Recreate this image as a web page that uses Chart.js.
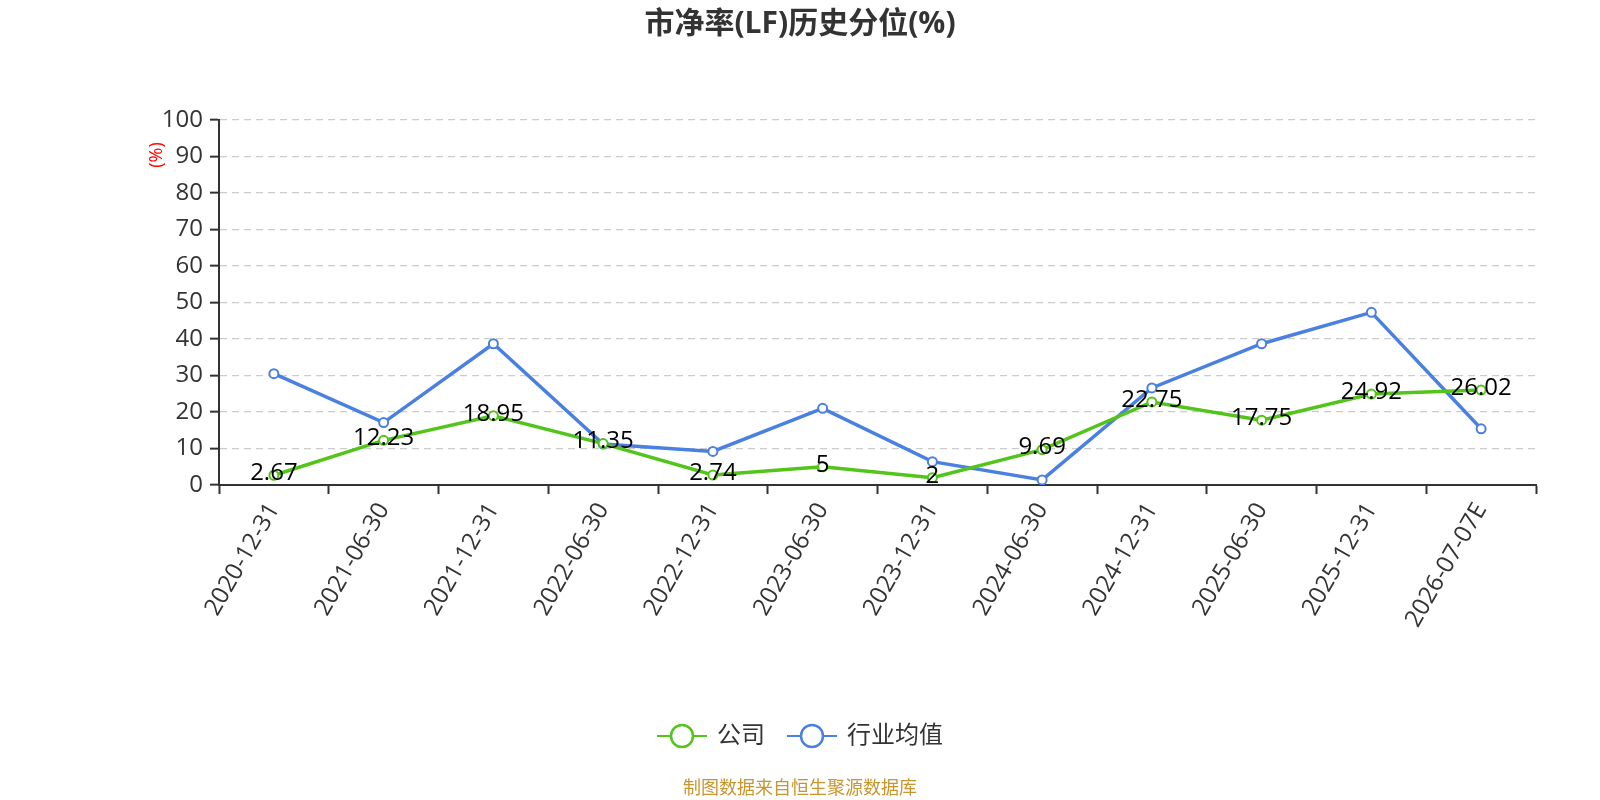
<!DOCTYPE html>
<html>
<head>
<meta charset="utf-8">
<script src="https://cdn.jsdelivr.net/npm/chart.js@4/dist/chart.umd.min.js"></script>
<style>
  html, body { margin: 0; padding: 0; background: #fff; overflow: hidden; }
  #wrap { width: 1600px; height: 800px; position: relative; }
</style>
</head>
<body>
<div id="wrap"><canvas id="pb-chart"></canvas></div>
<script>
// data
const categories = [
    "2020-12-31", "2021-06-30", "2021-12-31", "2022-06-30",
    "2022-12-31", "2023-06-30", "2023-12-31", "2024-06-30",
    "2024-12-31", "2025-06-30", "2025-12-31", "2026-07-07E"
]

const companyValues = [2.67, 12.23, 18.95, 11.35, 2.74, 5, 2, 9.69, 22.75, 17.75, 24.92, 26.02]

const industryValues = [30.5, 17.1, 38.7, 11.2, 9.2, 21.0, 6.4, 1.4, 26.6, 38.7, 47.3, 15.4]

const seriesNames = ["公司", "行业均值"]
const seriesColors = ["#52c41a", "#4a80e2"]

const yMin = 0
const yMax = 100
const yStep = 10

const FONT = '"Open Sans", "Noto Sans CJK SC", sans-serif'

// draws value labels, title, y-axis unit, legend and source note
const extrasPlugin = {
    id: "extras",
    afterDatasetsDraw(chart) {
        const ctx = chart.ctx
        const meta = chart.getDatasetMeta(0)
        ctx.save()
        ctx.font = "24px " + FONT
        ctx.fillStyle = "#000"
        ctx.textAlign = "center"
        ctx.textBaseline = "middle"
        meta.data.forEach(function(pt, i) {
            ctx.fillText(String(companyValues[i]), pt.x, pt.y - 2)
        })
        ctx.restore()
    },
    afterDraw(chart) {
        const ctx = chart.ctx
        ctx.save()

        // title
        ctx.font = "bold 30px " + FONT
        ctx.fillStyle = "#333"
        ctx.textAlign = "center"
        ctx.textBaseline = "middle"
        ctx.fillText("市净率(LF)历史分位(%)", 800, 24)

        // y axis unit
        ctx.save()
        ctx.translate(157, 155)
        ctx.rotate(-Math.PI / 2)
        ctx.font = "18px " + FONT
        ctx.fillStyle = "#ff0000"
        ctx.fillText("(%)", 0, 0)
        ctx.restore()

        // legend
        ctx.font = "24px " + FONT
        ctx.textAlign = "left"
        const lineW = 50, gap = 10, itemGap = 22
        const widths = seriesNames.map(n => lineW + gap + ctx.measureText(n).width)
        const total = widths.reduce((a, b) => a + b, 0) + itemGap
        let x = 800 - total / 2
        const ly = 736
        seriesNames.forEach(function(name, i) {
            ctx.strokeStyle = seriesColors[i]
            ctx.lineWidth = 2
            ctx.beginPath()
            ctx.moveTo(x, ly)
            ctx.lineTo(x + lineW, ly)
            ctx.stroke()
            ctx.beginPath()
            ctx.arc(x + lineW / 2, ly, 11, 0, Math.PI * 2)
            ctx.fillStyle = "#fff"
            ctx.fill()
            ctx.lineWidth = 2.5
            ctx.stroke()
            ctx.fillStyle = "#333"
            ctx.fillText(name, x + lineW + gap, ly)
            x += widths[i] + itemGap
        })

        // source note
        ctx.font = "18px " + FONT
        ctx.textAlign = "center"
        ctx.fillStyle = "#c8952e"
        ctx.fillText("制图数据来自恒生聚源数据库", 800, 789)

        ctx.restore()
    }
}

new Chart("pb-chart", {
    type: "line",
    data: {
        labels: categories,
        datasets: [
            {
                label: seriesNames[0],
                data: companyValues,
                borderColor: seriesColors[0],
                backgroundColor: "#fff",
                borderWidth: 3.5,
                pointRadius: 4.5,
                pointBorderWidth: 2,
                pointBackgroundColor: "#fff",
                pointBorderColor: seriesColors[0],
                tension: 0
            },
            {
                label: seriesNames[1],
                data: industryValues,
                borderColor: seriesColors[1],
                backgroundColor: "#fff",
                borderWidth: 3.5,
                pointRadius: 4.5,
                pointBorderWidth: 2,
                pointBackgroundColor: "#fff",
                pointBorderColor: seriesColors[1],
                tension: 0
            }
        ]
    },
    options: {
        responsive: true,
        maintainAspectRatio: false,
        animation: false,
        layout: {
            padding: { top: 120, right: 64, bottom: 0, left: 0 }
        },
        plugins: {
            legend: { display: false },
            title: { display: false },
            tooltip: { enabled: false }
        },
        scales: {
            x: {
                offset: true,
                grid: {
                    offset: true,
                    drawOnChartArea: false,
                    drawTicks: true,
                    tickLength: 9,
                    tickColor: "#333",
                    tickWidth: 2
                },
                border: { color: "#333", width: 2 },
                ticks: {
                    minRotation: 60,
                    maxRotation: 60,
                    autoSkip: false,
                    padding: 4,
                    color: "#333",
                    font: { size: 24, family: FONT }
                },
                afterFit(scale) { scale.height = 315 }
            },
            y: {
                min: yMin,
                max: yMax,
                grid: {
                    color: "#cccccc",
                    lineWidth: 1.3,
                    tickLength: 9,
                    tickColor: "#333",
                    tickWidth: 2,
                    tickBorderDash: []
                },
                border: { color: "#333", width: 2, dash: [7, 5] },
                ticks: {
                    stepSize: yStep,
                    padding: 7,
                    color: "#333",
                    font: { size: 24, family: FONT }
                },
                afterFit(scale) { scale.width = 219 }
            }
        }
    },
    plugins: [extrasPlugin]
});
</script>
</body>
</html>
